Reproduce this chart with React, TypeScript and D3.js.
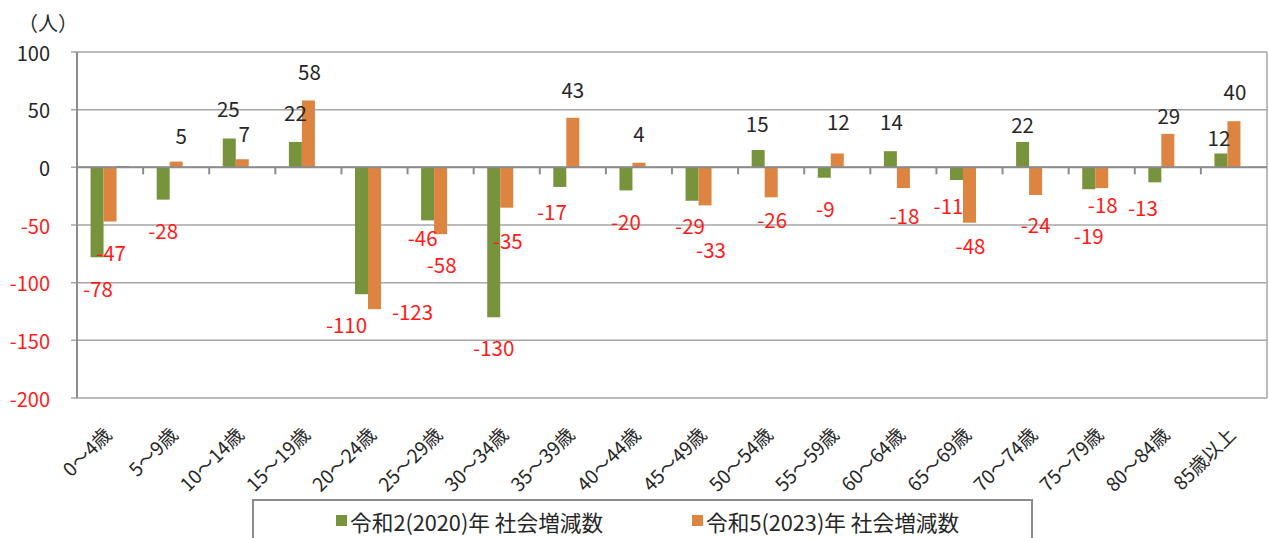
import * as d3 from 'd3';

const categories = [
  '0～4歳', '5～9歳', '10～14歳', '15～19歳', '20～24歳', '25～29歳',
  '30～34歳', '35～39歳', '40～44歳', '45～49歳', '50～54歳', '55～59歳',
  '60～64歳', '65～69歳', '70～74歳', '75～79歳', '80～84歳', '85歳以上',
];
const social2020 = [-78, -28, 25, 22, -110, -46, -130, -17, -20, -29, 15, -9, 14, -11, 22, -19, -13, 12];
const social2023 = [-47, 5, 7, 58, -123, -58, -35, 43, 4, -33, -26, 12, -18, -48, -24, -18, 29, 40];
// 凡例に出ていない3本目の系列（最初の区分だけ僅かに見える）
const extraSeries = [1, 0, 0, 0, 0, 0, 0, 0, 0, 0, 0, 0, 0, 0, 0, 0, 0, 0];
const seriesNames = ['令和2(2020)年 社会増減数', '令和5(2023)年 社会増減数'];
const yTicks = [100, 50, 0, -50, -100, -150, -200];

// ラベルの手動位置ずらし [dx, dy]
const nudge2020 = [
  [1, 13], [0, 12], [-1, -13], [0, -12], [-15, 12], [-5, -1], [0, 12], [-8, 6], [0, 13],
  [-2, 6], [-1, -9], [1, 12], [1, -12], [-8, 7], [0, 0], [0, 28], [-12, 7], [-2, 2],
];
const nudge2023 = [
  [1, 12], [5, -9], [2, -8], [1, -11], [38, -16], [1, 12], [1, 14], [0, -11], [0, -12],
  [6, 26], [1, 4], [1, -14], [1, 9], [1, 4], [0, 11], [1, -2], [1, -1], [1, -12],
];

const W = 1269;
const H = 538;
const FONT = '"Noto Sans CJK JP", "Noto Sans", sans-serif';
const GREEN = '#77933C';
const ORANGE = '#DD8440';
const BLUE = '#5A7CA8';
const RED = '#FF1A1A';
const DARK = '#262626';

export default function App() {
  const left = 77;
  const right = 1267;
  const top = 52;
  const bottom = 398;

  const x = d3.scaleBand<string>().domain(categories).range([left, right]);
  const y = d3.scaleLinear().domain([-200, 100]).range([bottom, top]);
  const groupW = 39;
  const xSub = d3.scaleBand<string>().domain(['a', 'b', 'c']).range([0, groupW]);
  const bw = x.bandwidth();
  const off = (bw - groupW) / 2;

  const series = [
    { key: 'a', values: social2020, color: GREEN, nudge: nudge2020 },
    { key: 'b', values: social2023, color: ORANGE, nudge: nudge2023 },
  ];

  const barX = (c: string, k: string) => (x(c) as number) + off + (xSub(k) as number);
  const sw = xSub.bandwidth();

  return (
    <svg width={W} height={H} style={{ position: 'absolute', left: 0, top: 0, background: '#fff' }}
      fontFamily={FONT}>
      {/* gridlines */}
      {yTicks.map((t) => (
        <line key={'g' + t} x1={left - 6} x2={right} y1={y(t)} y2={y(t)} stroke="#A6A6A6" strokeWidth={1.5} />
      ))}
      <line x1={right} x2={right} y1={top} y2={bottom} stroke="#A6A6A6" strokeWidth={1.5} />
      {/* y tick labels */}
      {yTicks.map((t) => (
        <text key={'t' + t} x={50} y={y(t)} textAnchor="end" dominantBaseline="central"
          fontSize={20} fill={t < 0 ? RED : DARK}>{t}</text>
      ))}
      <text x={48} y={22} textAnchor="middle" dominantBaseline="central" fontSize={20} fill={DARK}>（人）</text>

      {/* bars */}
      {series.map((s) =>
        s.values.map((v, i) => (
          <rect key={s.key + i} x={barX(categories[i], s.key)} width={sw}
            y={y(Math.max(0, v))} height={Math.abs(y(v) - y(0))} fill={s.color} />
        ))
      )}
      {extraSeries.map((v, i) => v !== 0 && (
        <rect key={'c' + i} x={barX(categories[i], 'c')} width={sw}
          y={y(Math.max(0, v))} height={Math.abs(y(v) - y(0))} fill={BLUE} />
      ))}

      {/* axes */}
      <line x1={left} x2={right} y1={y(0)} y2={y(0)} stroke="#8C8C8C" strokeWidth={2} />
      <line x1={left} x2={left} y1={top} y2={bottom} stroke="#8C8C8C" strokeWidth={2} />
      {categories.map((c, i) => i > 0 && (
        <line key={'xt' + i} x1={x(c)} x2={x(c)} y1={y(0)} y2={y(0) + 7} stroke="#8C8C8C" strokeWidth={2} />
      ))}

      {/* data labels */}
      {series.map((s) =>
        s.values.map((v, i) => {
          const cx = barX(categories[i], s.key) + sw / 2 + s.nudge[i][0];
          const cy = (v >= 0 ? y(v) - 18 : y(v) + 18) + s.nudge[i][1];
          return (
            <text key={'l' + s.key + i} x={cx} y={cy} textAnchor="middle" dominantBaseline="central"
              fontSize={20.5} fill={v < 0 ? RED : DARK}>{v}</text>
          );
        })
      )}

      {/* category labels */}
      {categories.map((c) => {
        const ax = (x(c) as number) + bw / 2 + 3;
        const ay = 436;
        return (
          <text key={'c' + c} x={ax} y={ay} textAnchor="end" fontSize={19} fill={DARK}
            transform={`rotate(-45 ${ax} ${ay})`}>{c}</text>
        );
      })}

      {/* legend */}
      <rect x={253} y={500} width={779} height={60} fill="#fff" stroke="#8C8C8C" strokeWidth={2} />
      {seriesNames.map((n, i) => {
        const lx = i === 0 ? 336 : 692;
        return (
          <g key={n}>
            <rect x={lx} y={515} width={11} height={11} fill={i === 0 ? GREEN : ORANGE} />
            <text x={lx + 14} y={521} dominantBaseline="central" fontSize={21.7} fill={DARK}>{n}</text>
          </g>
        );
      })}
    </svg>
  );
}
